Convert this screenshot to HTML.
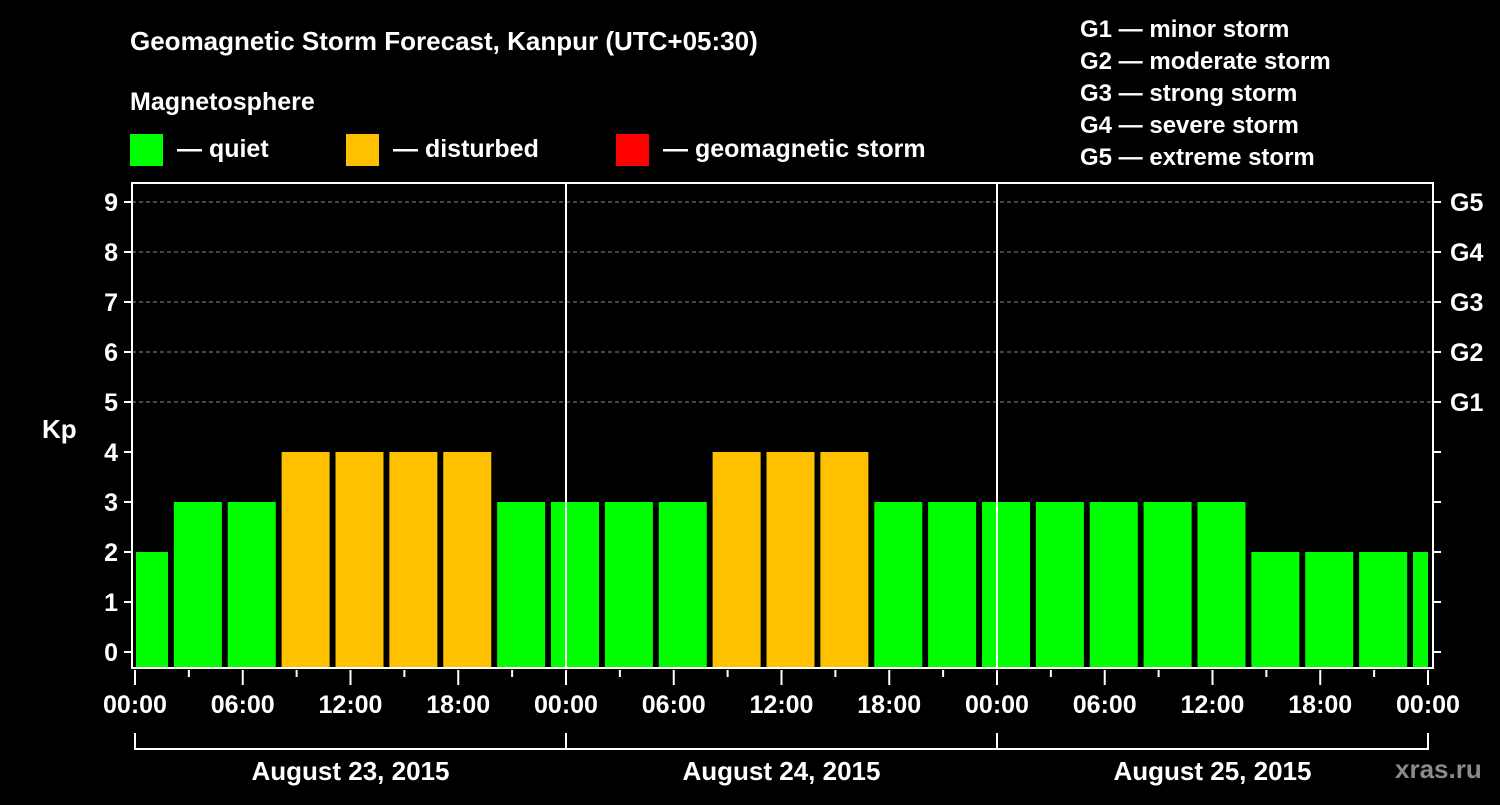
<!DOCTYPE html>
<html><head><meta charset="utf-8"><style>
body{margin:0;background:#000;}
svg text{font-family:"Liberation Sans",Arial,sans-serif;font-weight:bold;fill:#fff;}
</style></head><body>
<svg id="chart" width="1500" height="800" xmlns="http://www.w3.org/2000/svg">
<rect width="1500" height="800" fill="#000"/>
<text x="130" y="50" font-size="26">Geomagnetic Storm Forecast, Kanpur (UTC+05:30)</text>
<text x="130" y="110" font-size="25">Magnetosphere</text>
<g><rect x="130" y="134" width="33" height="32" fill="#00ff00"/><text x="177" y="157" font-size="25">— quiet</text></g>
<g><rect x="346" y="134" width="33" height="32" fill="#ffc000"/><text x="393" y="157" font-size="25">— disturbed</text></g>
<g><rect x="616" y="134" width="33" height="32" fill="#ff0000"/><text x="663" y="157" font-size="25">— geomagnetic storm</text></g>
<g font-size="24">
<text x="1080" y="37" font-size="24">G1 — minor storm</text>
<text x="1080" y="69" font-size="24">G2 — moderate storm</text>
<text x="1080" y="101" font-size="24">G3 — strong storm</text>
<text x="1080" y="133" font-size="24">G4 — severe storm</text>
<text x="1080" y="165" font-size="24">G5 — extreme storm</text>
</g>
<text x="42" y="438" font-size="26">Kp</text>
<text x="1395" y="778" font-size="26" fill="#888" style="fill:#8a8a8a">xras.ru</text>
<g id="marks"></g>
</svg>
<script>
const kpValues=[2,3,3,4,4,4,4,3,3,3,3,4,4,4,3,3,3,3,3,3,3,2,2,2,2];
const dayLabels=["August 23, 2015","August 24, 2015","August 25, 2015"];
const timeLabels=["00:00","06:00","12:00","18:00"];
const gLabels=["G1","G2","G3","G4","G5"];
const firstBarStartHour=-0.835;

const L=132,R=1433,T=183,B=668,X0=135,X1=1428;
const xs=h=>X0+(X1-X0)*h/72;
const ys=v=>652-50*v;
const NS="http://www.w3.org/2000/svg";
const g=document.getElementById('marks');
function mk(tag,attrs,parent){const e=document.createElementNS(NS,tag);for(const k in attrs)e.setAttribute(k,attrs[k]);(parent||g).appendChild(e);return e;}

// grid
for(let v=5;v<=9;v++){
  const l=mk('line',{x1:L,x2:R,y1:ys(v),y2:ys(v),stroke:'#888','stroke-dasharray':'4,3','stroke-width':1});
  
  
}
// bars
kpValues.forEach((v,i)=>{
  let a=xs(firstBarStartHour+3*i),b=a+48;
  a=Math.max(a,X0+1);b=Math.min(b,X1);
  if(b<=a)return;
  const col=v>=5?'#ff0000':(v>=4?'#ffc000':'#00ff00');
  const r=mk('rect',{x:a,y:ys(v),width:b-a,height:B-ys(v)-1,fill:col});
  
  
});
// day separators
[1,2].forEach(d=>{
  const l=mk('line',{x1:xs(24*d),x2:xs(24*d),y1:T,y2:B,stroke:'#fff','stroke-width':2});
  
  
});
// frame
const f=mk('rect',{x:L,y:T,width:R-L,height:B-T,fill:'none',stroke:'#fff','stroke-width':2});


// y ticks
for(let v=0;v<=9;v++){
  mk('line',{x1:L-8,x2:L,y1:ys(v),y2:ys(v),stroke:'#fff','stroke-width':2});
  mk('line',{x1:R,x2:R+8,y1:ys(v),y2:ys(v),stroke:'#fff','stroke-width':2});
  const t=mk('text',{x:L-14,y:ys(v)+9,'font-size':25,'text-anchor':'end'});
  t.textContent=v;
  
  
}
gLabels.forEach((s,i)=>{
  const t=mk('text',{x:1450,y:ys(5+i)+9,'font-size':25});
  t.textContent=s;
  
  
});
// x ticks
for(let h=0;h<=72;h+=3){
  const major=h%6===0;
  mk('line',{x1:xs(h),x2:xs(h),y1:B+2,y2:B+(major?17:9),stroke:'#fff','stroke-width':2});
  if(major){
    const t=mk('text',{x:xs(h),y:B+45,'font-size':25,'text-anchor':'middle'});
    t.textContent=timeLabels[(h/6)%4];
    
    
  }
}
// day brackets
mk('line',{x1:xs(0),x2:xs(72),y1:749,y2:749,stroke:'#fff','stroke-width':2});
for(let d=0;d<=3;d++)mk('line',{x1:xs(24*d),x2:xs(24*d),y1:733,y2:750,stroke:'#fff','stroke-width':2});
dayLabels.forEach((s,d)=>{
  const t=mk('text',{x:xs(24*d+12),y:780,'font-size':26,'text-anchor':'middle'});
  t.textContent=s;
  
  
});
</script>
</body></html>
